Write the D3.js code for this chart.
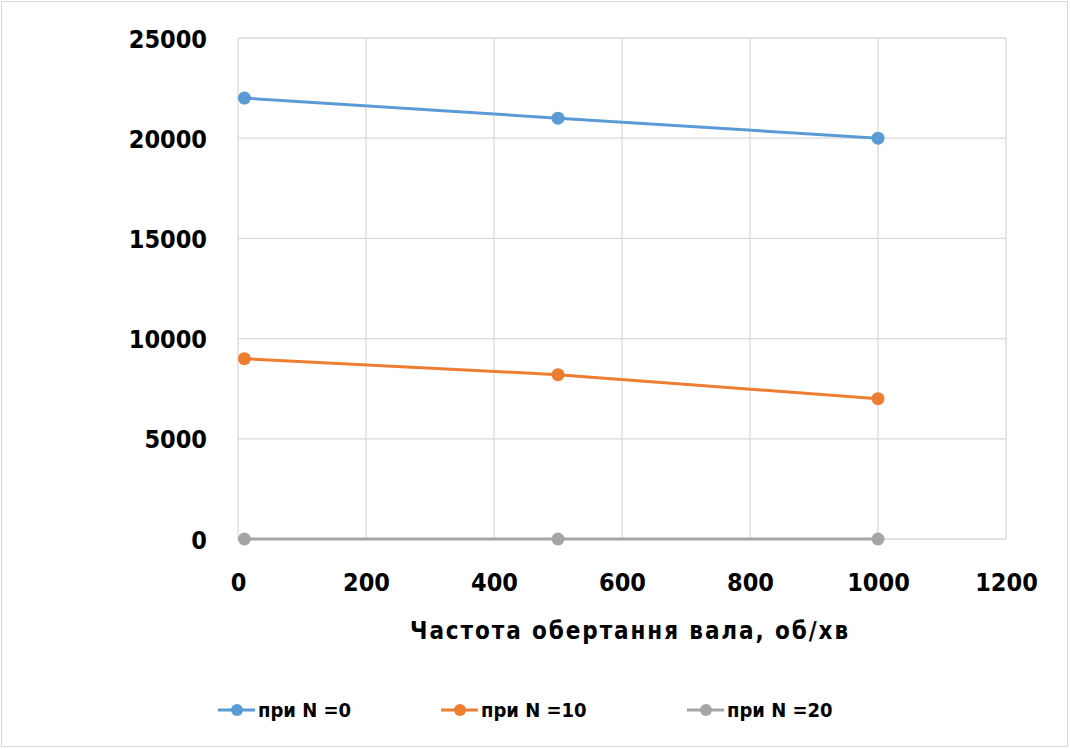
<!DOCTYPE html>
<html>
<head>
<meta charset="utf-8">
<script src="https://cdn.jsdelivr.net/npm/d3@7"></script>
<style>
  body { margin: 0; background: #fff; }
  svg text { font-family: "DejaVu Sans Condensed", "DejaVu Sans", sans-serif; font-weight: bold; fill: #000; }
</style>
</head>
<body>
<div id="chart"></div>
<script>
var xValues = [10, 500, 1000];
var seriesNames = ["при N =0", "при N =10", "при N =20"];
var seriesN0 = [22000, 21000, 20000];
var seriesN10 = [9000, 8200, 7000];
var seriesN20 = [0, 0, 0];
var seriesColors = ["#5b9bd5", "#ed7d31", "#a5a5a5"];
var xTicks = [0, 200, 400, 600, 800, 1000, 1200];
var yTicks = [0, 5000, 10000, 15000, 20000, 25000];
var xTitle = "Частота обертання вала, об/хв";

function DrawChart(){
    var width = 1070, height = 749;
    var plot = {left: 238, right: 1006, top: 38, bottom: 539};

    var svg = d3.select("#chart").append("svg")
        .attr("width", width)
        .attr("height", height);

    svg.append("rect")
        .attr("x", 1.5).attr("y", 1.5)
        .attr("width", width - 4).attr("height", height - 4)
        .attr("fill", "#fff").attr("stroke", "#d9d9d9");

    var x = d3.scaleLinear().domain([0, 1200]).range([plot.left, plot.right]);
    var y = d3.scaleLinear().domain([0, 25000]).range([plot.bottom, plot.top]);

    // grid
    svg.append("g").selectAll("line").data(xTicks).enter().append("line")
        .attr("x1", d => x(d)).attr("x2", d => x(d))
        .attr("y1", plot.top).attr("y2", plot.bottom)
        .attr("stroke", "#d9d9d9").attr("stroke-width", 1.3);
    svg.append("g").selectAll("line").data(yTicks).enter().append("line")
        .attr("x1", plot.left).attr("x2", plot.right)
        .attr("y1", d => y(d)).attr("y2", d => y(d))
        .attr("stroke", "#d9d9d9").attr("stroke-width", 1.3);

    var xAxis = d3.axisBottom(x).tickValues(xTicks).tickSize(0).tickPadding(52)
        .tickFormat(d3.format("d"));
    svg.append("g")
        .attr("transform", "translate(0," + plot.bottom + ")")
        .call(xAxis)
        .call(g => g.select(".domain").remove())
        .selectAll("text").style("font-size", "25px").attr("dy", "0");

    var yAxis = d3.axisLeft(y).tickValues(yTicks).tickSize(0).tickPadding(31)
        .tickFormat(d3.format("d"));
    svg.append("g")
        .attr("transform", "translate(" + plot.left + ",0)")
        .call(yAxis)
        .call(g => g.select(".domain").remove())
        .selectAll("text").style("font-size", "25px").attr("dy", "0.36em");

    svg.append("text")
        .attr("x", 630)
        .attr("y", 639)
        .attr("text-anchor", "middle")
        .style("font-size", "24px")
        .style("letter-spacing", "1.9px")
        .text(xTitle);

    var allSeries = [seriesN0, seriesN10, seriesN20];
    var line = d3.line().x((d, i) => x(xValues[i])).y(d => y(d));

    // grey first so it sits under the others
    [2, 1, 0].forEach(function(s){
        var g = svg.append("g");
        g.append("path")
            .datum(allSeries[s])
            .attr("d", line)
            .attr("fill", "none")
            .attr("stroke", seriesColors[s])
            .attr("stroke-width", 3);
        g.selectAll("circle").data(allSeries[s]).enter().append("circle")
            .attr("cx", (d, i) => x(xValues[i]))
            .attr("cy", d => y(d))
            .attr("r", 6.5)
            .attr("fill", seriesColors[s]);
    });

    // legend
    var legendX = [218, 441, 687];
    var legend = svg.append("g").selectAll("g").data(seriesNames).enter().append("g")
        .attr("transform", (d, i) => "translate(" + legendX[i] + ",710)");
    legend.append("line")
        .attr("x1", 0).attr("x2", 37).attr("y1", 0).attr("y2", 0)
        .attr("stroke", (d, i) => seriesColors[i]).attr("stroke-width", 3);
    legend.append("circle")
        .attr("cx", 19).attr("cy", 0).attr("r", 6)
        .attr("fill", (d, i) => seriesColors[i]);
    legend.append("text")
        .attr("x", 40).attr("y", 7)
        .style("font-size", "20px")
        .text(d => d);
}

DrawChart();
</script>
</body>
</html>
